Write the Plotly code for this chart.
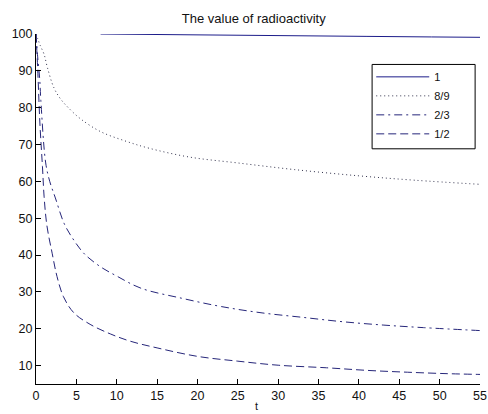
import plotly.graph_objects as go

# ---- data ----
t_1 = [8, 16, 25, 33, 41, 49, 55]
v_1 = [100.0, 99.8, 99.65, 99.5, 99.35, 99.2, 99.1]

t_89 = [0, 0.25, 0.5, 1, 1.4, 2.2, 3, 4, 5.5, 8, 11, 14, 19, 25, 32, 40, 47, 55]
v_89 = [100, 98.5, 97, 94.5, 91, 85.5, 82.5, 80, 77, 73.5, 71, 69, 66.6, 65, 63.2, 61.5, 60.3, 59.2]

t_23 = [0, 0.2, 0.45, 0.6, 1.2, 1.7, 2.4, 3.5, 4.7, 6, 8, 10, 13, 18, 23, 28, 33, 38, 43, 48, 55]
v_23 = [100, 94, 88, 82, 65, 60, 55.5, 48.5, 44, 40.3, 36.8, 34.3, 31, 28.3, 26, 24.3, 23.1, 21.9, 21.0, 20.3, 19.5]

t_12 = [0, 0.2, 0.5, 0.8, 1.0, 1.35, 2, 2.6, 3.4, 4.7, 6.7, 9.2, 11.7, 15, 20, 25, 30, 36, 41, 46, 51, 55]
v_12 = [100, 91, 75, 64, 56, 48, 40.5, 34.2, 28.7, 24.3, 21.2, 18.6, 16.6, 14.8, 12.5, 11.2, 10.1, 9.4, 8.7, 8.2, 7.8, 7.6]

names = ["1", "8/9", "2/3", "1/2"]
x_ticks = [0, 5, 10, 15, 20, 25, 30, 35, 40, 45, 50, 55]
y_ticks = [10, 20, 30, 40, 50, 60, 70, 80, 90, 100]

font = "Liberation Sans, Arial, sans-serif"

fig = go.Figure()
fig.add_trace(go.Scatter(x=t_1, y=v_1, mode="lines", name=names[0],
                         line=dict(color="#1c1c8a", width=1)))
fig.add_trace(go.Scatter(x=t_89, y=v_89, mode="lines", name=names[1], line_shape="spline",
                         line=dict(color="#33334d", width=1, dash="1px,3px")))
fig.add_trace(go.Scatter(x=t_23, y=v_23, mode="lines", name=names[2], line_shape="spline",
                         line=dict(color="#26267a", width=1, dash="8px,4px,2px,4px")))
fig.add_trace(go.Scatter(x=t_12, y=v_12, mode="lines", name=names[3], line_shape="spline",
                         line=dict(color="#26267a", width=1, dash="8px,4px")))

fig.update_layout(
    width=488, height=414,
    margin=dict(l=35.5, r=8, t=33.5, b=29.7, autoexpand=False),
    paper_bgcolor="white", plot_bgcolor="white",
    font=dict(family=font, size=12.5, color="#111111"),
    title=dict(text="The value of radioactivity", x=0.52, xanchor="center",
               y=1 - 18 / 414, yanchor="middle", font=dict(size=13, family=font)),
    showlegend=True,
    legend=dict(x=0.755, y=0.919, xanchor="left", yanchor="top",
                borderwidth=0, bgcolor="rgba(0,0,0,0)",
                font=dict(size=11, family=font), itemwidth=53,
                tracegroupgap=0),
    shapes=[dict(type="rect", xref="paper", yref="paper",
                 x0=0.757, x1=0.989, y0=0.672, y1=0.913,
                 line=dict(color="black", width=1), fillcolor="white", layer="above")],
    xaxis=dict(range=[0, 55], tickvals=x_ticks, showgrid=False, zeroline=False,
               showline=True, linecolor="black", linewidth=1, ticks="inside",
               ticklen=5, tickcolor="black", mirror=False,
               tickfont=dict(size=12.5, family=font)),
    yaxis=dict(range=[5, 100], tickvals=y_ticks, showgrid=False, zeroline=False,
               showline=True, linecolor="black", linewidth=1, ticks="inside",
               ticklen=5, tickcolor="black", mirror=False,
               tickfont=dict(size=12.5, family=font)),
    annotations=[dict(text="t", xref="paper", yref="paper", x=0.497, y=-0.062,
                      xanchor="center", yanchor="middle", showarrow=False,
                      font=dict(size=11, family=font))],
)

fig.write_html("out.html", config={"displayModeBar": False},
               post_script="document.body.style.margin='0px';document.body.style.padding='0px';")
